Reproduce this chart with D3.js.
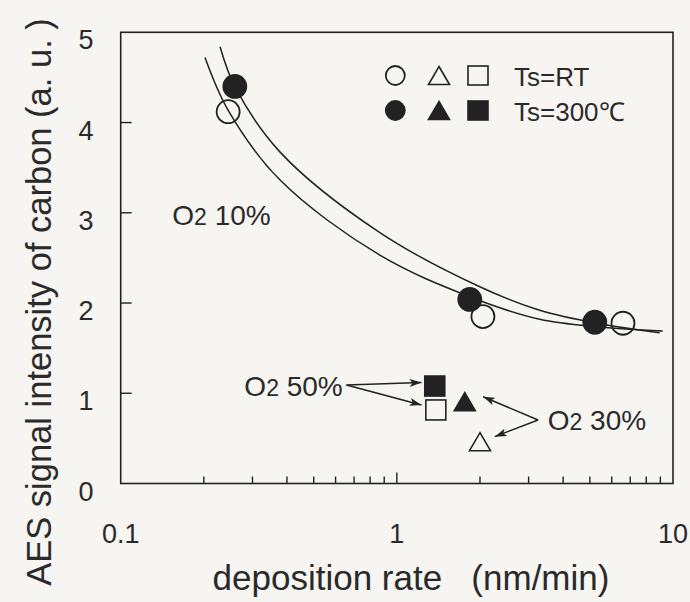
<!DOCTYPE html>
<html>
<head>
<meta charset="utf-8">
<script src="https://cdn.jsdelivr.net/npm/d3@7"></script>
<style>
  html, body { margin: 0; padding: 0; background: #f6f5f2; }
  svg { display: block; }
  text { font-family: "Liberation Sans", Arial, sans-serif; fill: #2a2a2a; }
</style>
</head>
<body>
<script>
// ---- data ----
const xTickLabels = ["0.1", "1", "10"];
const xTickValues = [0.1, 1, 10];
const xMinorTicks = [0.2, 0.3, 0.4, 0.5, 0.6, 0.7, 0.8, 0.9, 2, 3, 4, 5, 6, 7, 8, 9];
const yTickValues = [0, 1, 2, 3, 4, 5];

// O2 10% circles
const circlesRT   = [[0.245, 4.12], [2.05, 1.85], [6.59, 1.776]];
const circles300  = [[0.259, 4.40], [1.837, 2.04], [5.21, 1.787]];
// O2 30% triangles
const trianglesRT  = [[2.0, 0.463]];
const triangles300 = [[1.762, 0.907]];
// O2 50% squares
const squaresRT  = [[1.384, 0.815]];
const squares300 = [[1.372, 1.08]];

// hand-drawn guide curves
const curveUpper = [[0.229, 4.84], [0.259, 4.40], [0.377, 3.675], [0.868, 2.78], [1.997, 2.18], [3.29, 1.92], [5.43, 1.77], [8.95, 1.67]];
const curveLower = [[0.202, 4.72], [0.2445, 4.14], [0.377, 3.365], [0.868, 2.53], [1.837, 2.07], [3.29, 1.82], [5.43, 1.735], [9.18, 1.69]];

// annotations
const labels = [
  {t: "O", sub: "2", rest: " 10%", x: 0.1538, y: 2.977, anchor: "start"},
  {t: "O", sub: "2", rest: " 50%", x: 0.637,  y: 1.08,  anchor: "end"},
  {t: "O", sub: "2", rest: " 30%", x: 3.52,   y: 0.704, anchor: "start"}
];
const arrows = [
  {from: [0.657, 1.092], to: [1.228, 1.118]},
  {from: [0.657, 1.092], to: [1.228, 0.870]},
  {from: [3.246, 0.704], to: [2.053, 0.962]},
  {from: [3.246, 0.704], to: [2.263, 0.519]}
];
const legendRows = [
  {label: "Ts=RT", filled: false},
  {label: "Ts=300℃", filled: true}
];

// ---- layout ----
const W = 690, H = 602;
const plot = {left: 120.7, right: 673, top: 32.3, bottom: 483.5};
const ink = "#222";

const svg = d3.select("body").append("svg").attr("width", W).attr("height", H);

const x = d3.scaleLog().domain([0.1, 10]).range([plot.left, plot.right]);
const y = d3.scaleLinear().domain([0, 5]).range([plot.bottom, plot.top]);

// arrow marker
svg.append("defs").append("marker")
  .attr("id", "ah").attr("viewBox", "0 0 12 8").attr("refX", 12).attr("refY", 4)
  .attr("markerWidth", 12).attr("markerHeight", 8).attr("markerUnits", "userSpaceOnUse")
  .attr("orient", "auto")
  .append("path").attr("d", "M0,0 L12,4 L0,8 L3,4 Z").attr("fill", ink);

// frame
svg.append("rect")
  .attr("x", plot.left).attr("y", plot.top)
  .attr("width", plot.right - plot.left).attr("height", plot.bottom - plot.top)
  .attr("fill", "none").attr("stroke", ink).attr("stroke-width", 1.6);

// x ticks (inward)
svg.append("g").selectAll("line").data(xMinorTicks).join("line")
  .attr("x1", d => x(d)).attr("x2", d => x(d))
  .attr("y1", plot.bottom).attr("y2", plot.bottom - 7)
  .attr("stroke", ink).attr("stroke-width", 1.4);
svg.append("g").selectAll("line").data([1]).join("line")
  .attr("x1", d => x(d)).attr("x2", d => x(d))
  .attr("y1", plot.bottom).attr("y2", plot.bottom - 11)
  .attr("stroke", ink).attr("stroke-width", 1.4);
svg.append("g").selectAll("text").data(xTickValues).join("text")
  .attr("x", d => x(d)).attr("y", plot.bottom + 59)
  .attr("text-anchor", "middle").attr("font-size", 27)
  .text((d, i) => xTickLabels[i]);

// y ticks (inward)
svg.append("g").selectAll("line").data(yTickValues.filter(d => d > 0 && d < 5)).join("line")
  .attr("x1", plot.left).attr("x2", plot.left + 11)
  .attr("y1", d => y(d)).attr("y2", d => y(d))
  .attr("stroke", ink).attr("stroke-width", 1.4);
svg.append("g").selectAll("text").data(yTickValues).join("text")
  .attr("x", 86).attr("y", d => y(d) + 17)
  .attr("text-anchor", "middle").attr("font-size", 27)
  .text(d => d);

// axis titles
svg.append("text")
  .attr("x", 411).attr("y", 590).attr("text-anchor", "middle")
  .attr("font-size", 35).attr("xml:space", "preserve").style("white-space", "pre")
  .text("deposition rate   (nm/min)");
svg.append("text")
  .attr("transform", "translate(51,302) rotate(-90)")
  .attr("text-anchor", "middle").attr("font-size", 34.5).attr("xml:space", "preserve").style("white-space", "pre")
  .text("AES signal intensity of carbon (a. u. )");

// curves
const line = d3.line().x(d => x(d[0])).y(d => y(d[1])).curve(d3.curveCatmullRom.alpha(0.5));
[curveUpper, curveLower].forEach(c => {
  svg.append("path").attr("d", line(c)).attr("fill", "none").attr("stroke", ink).attr("stroke-width", 1.5);
});

// marker helpers
const R = 11.5;
function drawCircles(data, filled) {
  svg.append("g").selectAll("circle").data(data).join("circle")
    .attr("cx", d => x(d[0])).attr("cy", d => y(d[1])).attr("r", R)
    .attr("fill", filled ? ink : "none")
    .attr("stroke", ink).attr("stroke-width", 1.8);
}
function triPath(cx, cy, w, h) {
  return `M${cx},${cy - h / 2} L${cx + w / 2},${cy + h / 2} L${cx - w / 2},${cy + h / 2} Z`;
}
function drawTriangles(data, filled) {
  svg.append("g").selectAll("path").data(data).join("path")
    .attr("d", d => triPath(x(d[0]), y(d[1]), 21, 18))
    .attr("fill", filled ? ink : "none").attr("stroke", ink).attr("stroke-width", 1.6)
    .attr("stroke-linejoin", "miter");
}
function drawSquares(data, filled) {
  svg.append("g").selectAll("rect").data(data).join("rect")
    .attr("x", d => x(d[0]) - 10).attr("y", d => y(d[1]) - 10)
    .attr("width", 20).attr("height", 20)
    .attr("fill", filled ? ink : "none").attr("stroke", ink).attr("stroke-width", 1.6);
}
drawCircles(circlesRT, false);
drawCircles(circles300, true);
drawTriangles(trianglesRT, false);
drawTriangles(triangles300, true);
drawSquares(squaresRT, false);
drawSquares(squares300, true);

// arrows
svg.append("g").selectAll("line").data(arrows).join("line")
  .attr("x1", d => x(d.from[0])).attr("y1", d => y(d.from[1]))
  .attr("x2", d => x(d.to[0])).attr("y2", d => y(d.to[1]))
  .attr("stroke", ink).attr("stroke-width", 1.5).attr("marker-end", "url(#ah)");

// annotation labels
labels.forEach(l => {
  const t = svg.append("text")
    .attr("x", x(l.x)).attr("y", y(l.y) + 10)
    .attr("text-anchor", l.anchor).attr("font-size", 28)
    .attr("xml:space", "preserve").style("white-space", "pre");
  t.append("tspan").text(l.t);
  t.append("tspan").attr("font-size", 23).text(l.sub);
  t.append("tspan").text(l.rest);
});

// legend
const legX = [395.3, 439, 478], legY = [75.5, 110.5];
legendRows.forEach((row, i) => {
  const cy = legY[i];
  const g = svg.append("g");
  g.append("circle").attr("cx", legX[0]).attr("cy", cy).attr("r", 9.5)
    .attr("fill", row.filled ? ink : "none").attr("stroke", ink).attr("stroke-width", 1.8);
  g.append("path").attr("d", triPath(legX[1], cy, 21, 18))
    .attr("fill", row.filled ? ink : "none").attr("stroke", ink).attr("stroke-width", 1.6);
  g.append("rect").attr("x", legX[2] - 10).attr("y", cy - 9.5).attr("width", 20).attr("height", 19)
    .attr("fill", row.filled ? ink : "none").attr("stroke", ink).attr("stroke-width", 1.6);
  g.append("text").attr("x", 514).attr("y", cy + 10).attr("font-size", 26).text(row.label);
});
</script>
</body>
</html>
